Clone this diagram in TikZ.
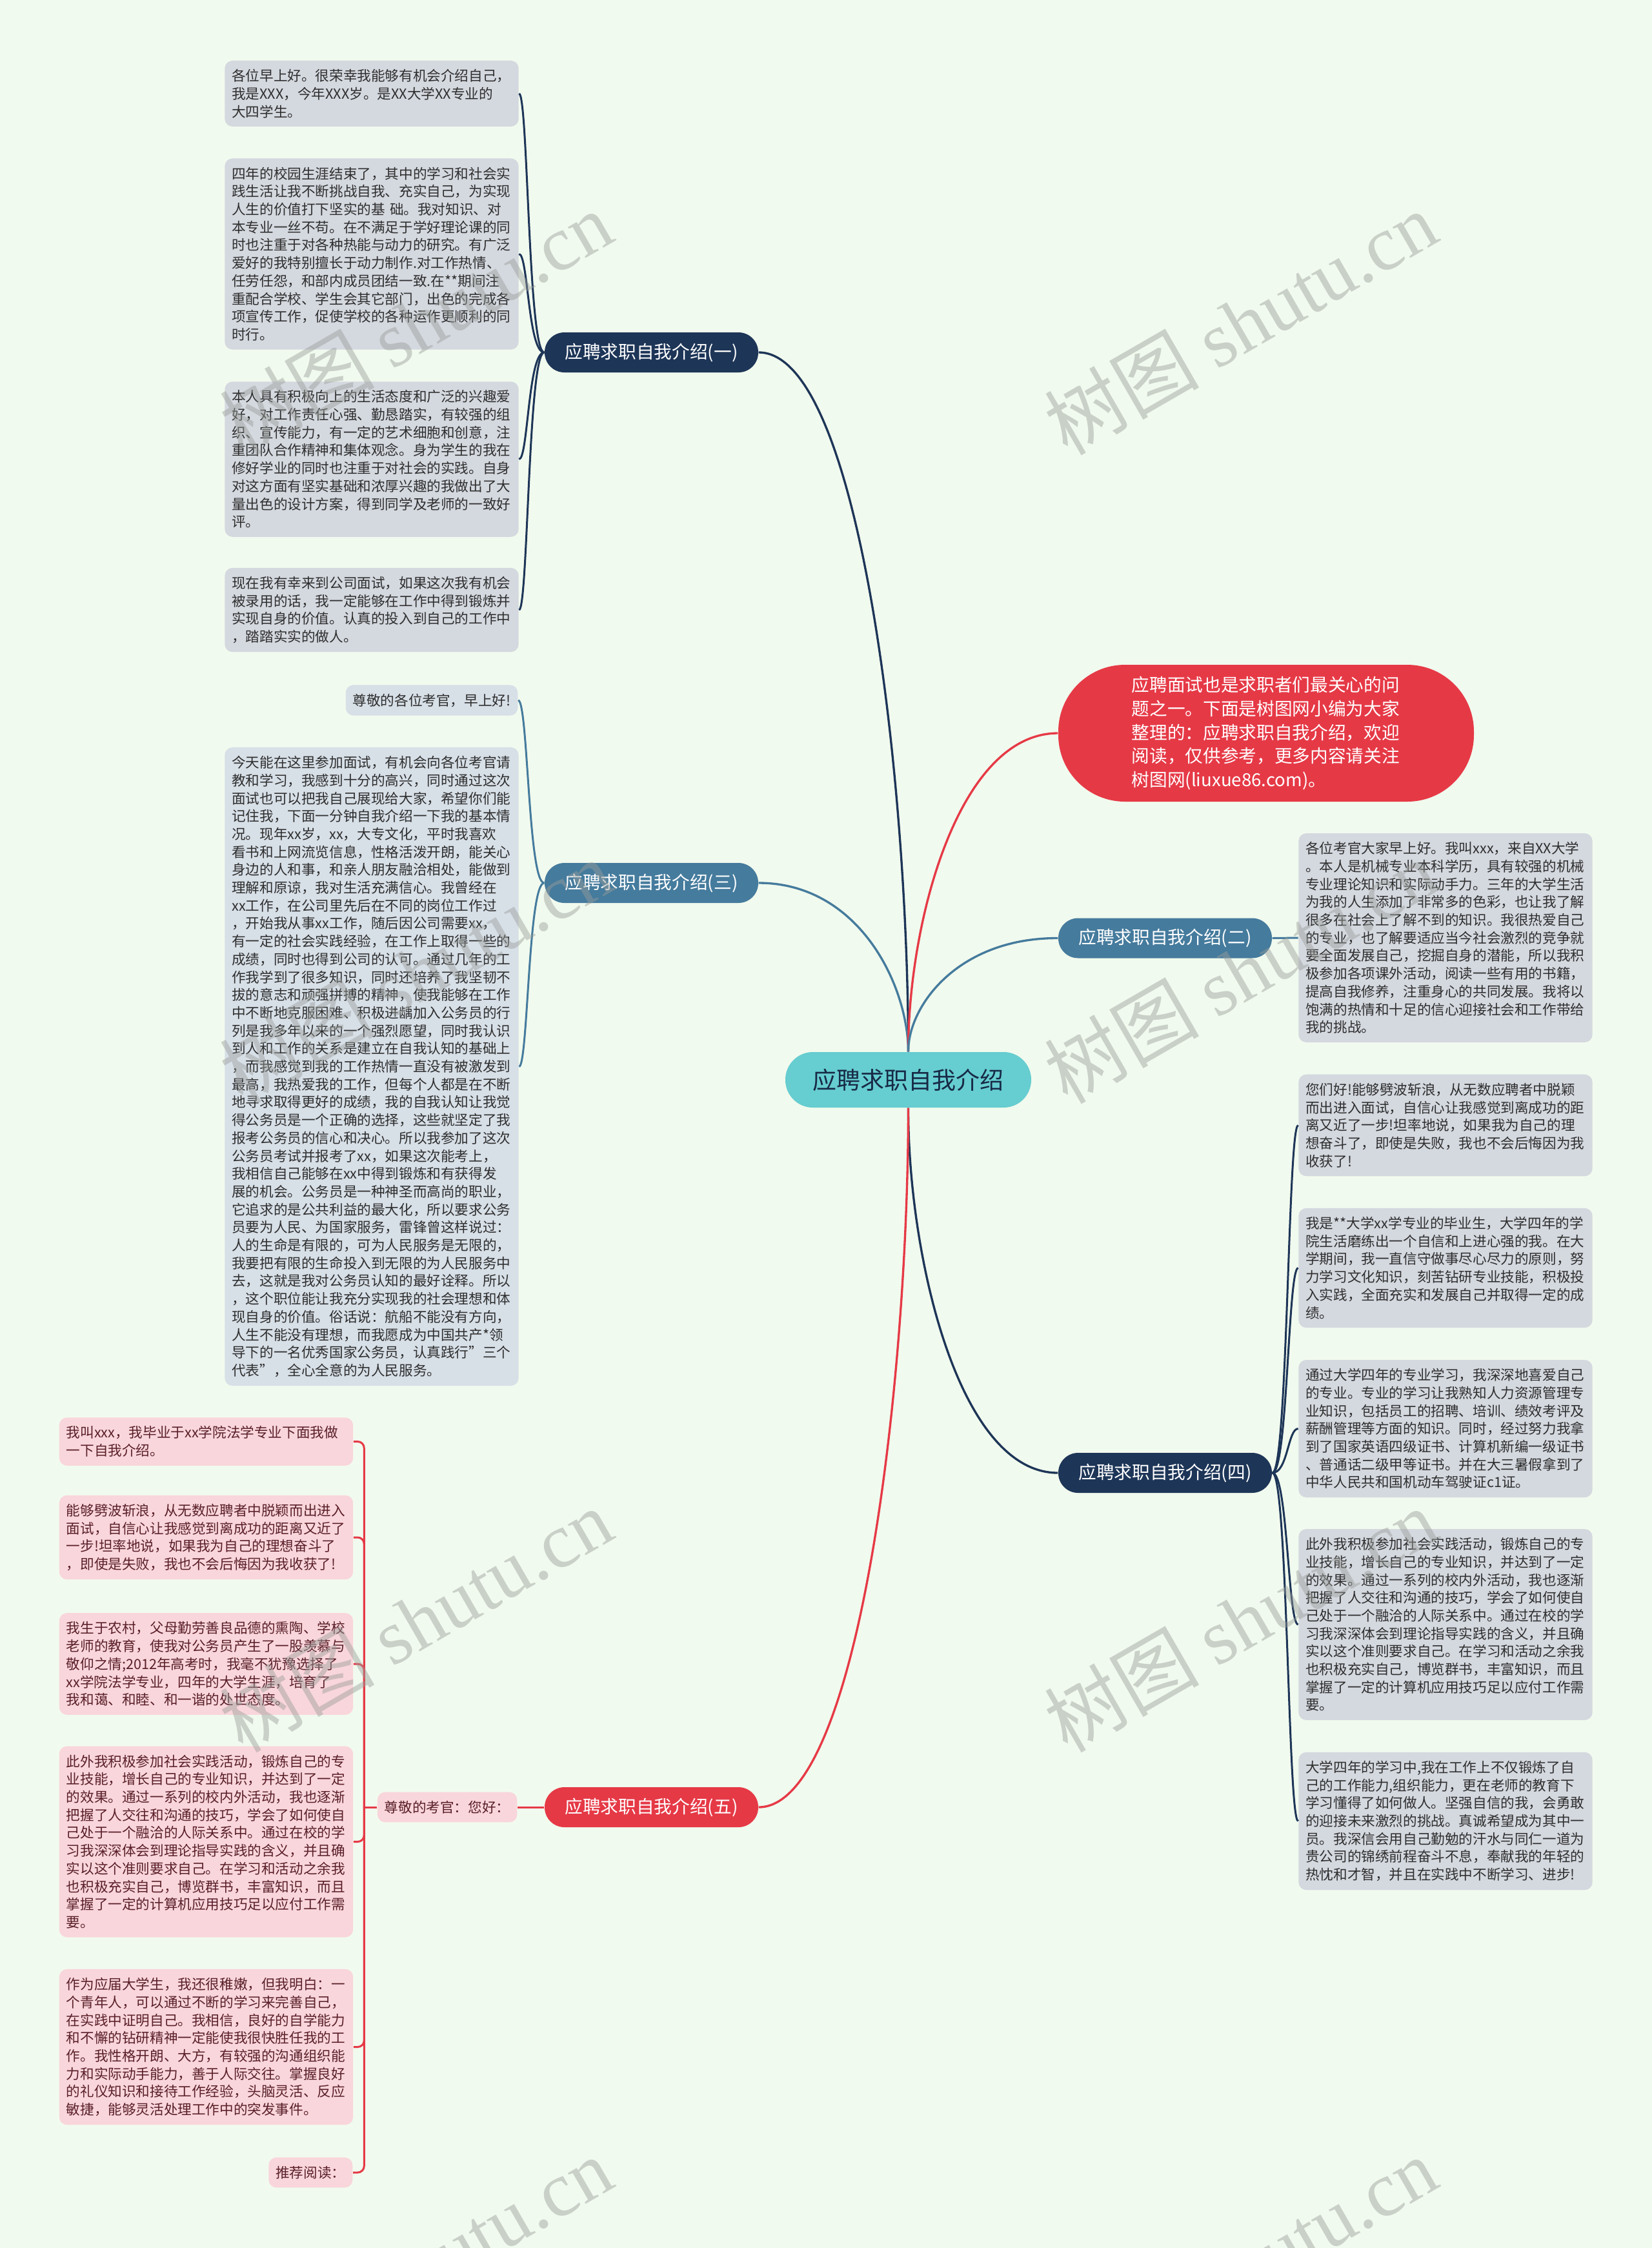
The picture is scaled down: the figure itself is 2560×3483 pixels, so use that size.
\documentclass[tikz,border=0pt]{standalone}
\usepackage{fontspec}
\setmainfont{Noto Sans CJK SC}
\newfontfamily\wmlat{Liberation Serif}
\usetikzlibrary{calc}
\definecolor{cbg}{HTML}{F1FAEE}
\definecolor{cnavy}{HTML}{1D3557}
\definecolor{csteel}{HTML}{457B9D}
\definecolor{cred}{HTML}{E63946}
\definecolor{cteal}{HTML}{66CDD0}
\definecolor{cga}{HTML}{D4D8DF}
\definecolor{cgb}{HTML}{D7DFE7}
\definecolor{cpink}{HTML}{F9D6DB}
\definecolor{ctx}{HTML}{2E2E2E}
\definecolor{cmar}{HTML}{5A1F29}
\definecolor{cwm}{HTML}{9A9E9A}
\tikzset{
  leafbase/.style={rounded corners=3.6pt, font=\fontsize{6.48pt}{8.31pt}\selectfont, align=left, inner xsep=3.3pt, inner ysep=4pt},
  wide/.style={text width=130pt},
  leafa/.style={leafbase, fill=cga, text=ctx},
  leafb/.style={leafbase, fill=cgb, text=ctx},
  leafd/.style={leafbase, fill=cpink, text=cmar},
  brn/.style={rounded corners=9.2pt, minimum width=99.3pt, minimum height=18.6pt, inner ysep=2pt, text=white, font=\fontsize{8.3pt}{10pt}\selectfont},
  lk/.style={line width=0.9pt},
  mk/.style={line width=1pt},
  wm/.style={rotate=30, opacity=0.45, text=cwm, font=\fontsize{36pt}{40pt}\selectfont}
}
\begin{document}
\begin{tikzpicture}[x=0.3pt,y=-0.3pt]
\useasboundingbox (0,0) rectangle (2560,3483);
\fill[cbg] (0,0) rectangle (2560,3483);

% center and branches
\node[fill=cteal, text=cnavy!80!black, rounded corners=12.8pt, minimum width=114.3pt, minimum height=25.8pt, font=\fontsize{11.1pt}{13pt}\selectfont] (c) at (1407.5,1673) {应聘求职自我介绍};
\node[brn, fill=cnavy] (b1) at (1009.5,546) {应聘求职自我介绍(一)};
\node[brn, fill=csteel] (b3) at (1009.5,1368) {应聘求职自我介绍(三)};
\node[brn, fill=csteel] (b2) at (1805.5,1453.5) {应聘求职自我介绍(二)};
\node[brn, fill=cnavy] (b4) at (1805.5,2282) {应聘求职自我介绍(四)};
\node[brn, fill=cred] (b5) at (1009.5,2800) {应聘求职自我介绍(五)};
\node[fill=cred, text=white, rounded corners=31pt, minimum width=193.2pt, minimum height=63.6pt, text width=125pt, align=left, font=\fontsize{8.3pt}{11pt}\selectfont] (intro) at (1962,1136) {应聘面试也是求职者们最关心的问\\题之一。下面是树图网小编为大家\\整理的：应聘求职自我介绍，欢迎\\阅读，仅供参考，更多内容请关注\\树图网(liuxue86.com)。};

% main connectors
\draw[cnavy, mk] (c.north) .. controls (1407,1196) and (1330,546) .. (b1.east);
\draw[csteel, mk] (c.north) .. controls (1407,1525) and (1330,1368) .. (b3.east);
\draw[cred, mk] (c.north) .. controls (1407,1432) and (1484,1136) .. (intro.west);
\draw[csteel, mk] (c.north) .. controls (1407,1559) and (1484,1453) .. (b2.west);
\draw[cnavy, mk] (c.south) .. controls (1407,1942) and (1484,2282) .. (b4.west);
\draw[cred, mk] (c.south) .. controls (1407,2149) and (1330,2800) .. (b5.east);

% group one
\node[leafa, wide] (l1a) at (576,145) {各位早上好。很荣幸我能够有机会介绍自己，\\我是XXX，今年XXX岁。是XX大学XX专业的\\大四学生。};
\node[leafa, wide] (l1b) at (576,393.5) {四年的校园生涯结束了，其中的学习和社会实\\践生活让我不断挑战自我、充实自己，为实现\\人生的价值打下坚实的基 础。我对知识、对\\本专业一丝不苟。在不满足于学好理论课的同\\时也注重于对各种热能与动力的研究。有广泛\\爱好的我特别擅长于动力制作.对工作热情、\\任劳任怨，和部内成员团结一致.在**期间注\\重配合学校、学生会其它部门，出色的完成各\\项宣传工作，促使学校的各种运作更顺利的同\\时行。};
\node[leafa, wide] (l1c) at (576,711.5) {本人具有积极向上的生活态度和广泛的兴趣爱\\好，对工作责任心强、勤恳踏实，有较强的组\\织、宣传能力，有一定的艺术细胞和创意，注\\重团队合作精神和集体观念。身为学生的我在\\修好学业的同时也注重于对社会的实践。自身\\对这方面有坚实基础和浓厚兴趣的我做出了大\\量出色的设计方案，得到同学及老师的一致好\\评。};
\node[leafa, wide] (l1d) at (576,945) {现在我有幸来到公司面试，如果这次我有机会\\被录用的话，我一定能够在工作中得到锻炼并\\实现自身的价值。认真的投入到自己的工作中\\，踏踏实实的做人。};
\foreach \l in {l1a,l1b,l1c,l1d}
  \draw[cnavy, lk] (b1.west) .. controls ($(b1.west)+(-25,0)$) and ($(b1.west |- \l.east)+(-25,0)$) .. (\l.east);

% group three
\node[leafb, anchor=east] (l3a) at (803,1085) {尊敬的各位考官，早上好!};
\node[leafb, wide] (l3b) at (576,1652.5) {今天能在这里参加面试，有机会向各位考官请\\教和学习，我感到十分的高兴，同时通过这次\\面试也可以把我自己展现给大家，希望你们能\\记住我，下面一分钟自我介绍一下我的基本情\\况。现年xx岁，xx，大专文化，平时我喜欢\\看书和上网流览信息，性格活泼开朗，能关心\\身边的人和事，和亲人朋友融洽相处，能做到\\理解和原谅，我对生活充满信心。我曾经在\\xx工作，在公司里先后在不同的岗位工作过\\，开始我从事xx工作，随后因公司需要xx，\\有一定的社会实践经验，在工作上取得一些的\\成绩，同时也得到公司的认可。通过几年的工\\作我学到了很多知识，同时还培养了我坚韧不\\拔的意志和顽强拼搏的精神，使我能够在工作\\中不断地克服困难、积极进龋加入公务员的行\\列是我多年以来的一个强烈愿望，同时我认识\\到人和工作的关系是建立在自我认知的基础上\\，而我感觉到我的工作热情一直没有被激发到\\最高，我热爱我的工作，但每个人都是在不断\\地寻求取得更好的成绩，我的自我认知让我觉\\得公务员是一个正确的选择，这些就坚定了我\\报考公务员的信心和决心。所以我参加了这次\\公务员考试并报考了xx，如果这次能考上，\\我相信自己能够在xx中得到锻炼和有获得发\\展的机会。公务员是一种神圣而高尚的职业，\\它追求的是公共利益的最大化，所以要求公务\\员要为人民、为国家服务，雷锋曾这样说过：\\人的生命是有限的，可为人民服务是无限的，\\我要把有限的生命投入到无限的为人民服务中\\去，这就是我对公务员认知的最好诠释。所以\\，这个职位能让我充分实现我的社会理想和体\\现自身的价值。俗话说：航船不能没有方向，\\人生不能没有理想，而我愿成为中国共产*领\\导下的一名优秀国家公务员，认真践行"三个\\代表"，全心全意的为人民服务。};
\foreach \l in {l3a,l3b}
  \draw[csteel, lk] (b3.west) .. controls ($(b3.west)+(-25,0)$) and ($(b3.west |- \l.east)+(-25,0)$) .. (\l.east);

% group two
\node[leafa, wide] (l2) at (2240,1453) {各位考官大家早上好。我叫xxx，来自XX大学\\。本人是机械专业本科学历，具有较强的机械\\专业理论知识和实际动手力。三年的大学生活\\为我的人生添加了非常多的色彩，也让我了解\\很多在社会上了解不到的知识。我很热爱自己\\的专业，也了解要适应当今社会激烈的竞争就\\要全面发展自己，挖掘自身的潜能，所以我积\\极参加各项课外活动，阅读一些有用的书籍，\\提高自我修养，注重身心的共同发展。我将以\\饱满的热情和十足的信心迎接社会和工作带给\\我的挑战。};
\draw[csteel, lk] (b2.east) -- (l2.west);

% group four
\node[leafa, wide] (l4a) at (2240,1743.5) {您们好!能够劈波斩浪，从无数应聘者中脱颖\\而出进入面试，自信心让我感觉到离成功的距\\离又近了一步!坦率地说，如果我为自己的理\\想奋斗了，即使是失败，我也不会后悔因为我\\收获了!};
\node[leafa, wide] (l4b) at (2240,1964.5) {我是**大学xx学专业的毕业生，大学四年的学\\院生活磨练出一个自信和上进心强的我。在大\\学期间，我一直信守做事尽心尽力的原则，努\\力学习文化知识，刻苦钻研专业技能，积极投\\入实践，全面充实和发展自己并取得一定的成\\绩。};
\node[leafa, wide] (l4c) at (2240,2213.5) {通过大学四年的专业学习，我深深地喜爱自己\\的专业。专业的学习让我熟知人力资源管理专\\业知识，包括员工的招聘、培训、绩效考评及\\薪酬管理等方面的知识。同时，经过努力我拿\\到了国家英语四级证书、计算机新编一级证书\\、普通话二级甲等证书。并在大三暑假拿到了\\中华人民共和国机动车驾驶证c1证。};
\node[leafa, wide] (l4d) at (2240,2517) {此外我积极参加社会实践活动，锻炼自己的专\\业技能，增长自己的专业知识，并达到了一定\\的效果。通过一系列的校内外活动，我也逐渐\\把握了人交往和沟通的技巧，学会了如何使自\\己处于一个融洽的人际关系中。通过在校的学\\习我深深体会到理论指导实践的含义，并且确\\实以这个准则要求自己。在学习和活动之余我\\也积极充实自己，博览群书，丰富知识，而且\\掌握了一定的计算机应用技巧足以应付工作需\\要。};
\node[leafa, wide] (l4e) at (2240,2821.5) {大学四年的学习中,我在工作上不仅锻炼了自\\己的工作能力,组织能力，更在老师的教育下\\学习懂得了如何做人。坚强自信的我，会勇敢\\的迎接未来激烈的挑战。真诚希望成为其中一\\员。我深信会用自己勤勉的汗水与同仁一道为\\贵公司的锦绣前程奋斗不息，奉献我的年轻的\\热忱和才智，并且在实践中不断学习、进步!};
\foreach \l in {l4a,l4b,l4c,l4d,l4e}
  \draw[cnavy, lk] (b4.east) .. controls ($(b4.east)+(24,0)$) and ($(b4.east |- \l.west)+(24,0)$) .. (\l.west);

% group five
\node[leafd, anchor=east] (s5) at (802,2800) {尊敬的考官：您好：};
\draw[cred, lk] (b5.west) -- (s5.east);
\coordinate (sp5) at ($(s5.west)+(-20,0)$);
\draw[cred, lk] (s5.west) -- (sp5);
\node[leafd, wide] (l5a) at (319.5,2233.5) {我叫xxx，我毕业于xx学院法学专业下面我做\\一下自我介绍。};
\node[leafd, wide] (l5b) at (319.5,2382) {能够劈波斩浪，从无数应聘者中脱颖而出进入\\面试，自信心让我感觉到离成功的距离又近了\\一步!坦率地说，如果我为自己的理想奋斗了\\，即使是失败，我也不会后悔因为我收获了!};
\node[leafd, wide] (l5c) at (319.5,2578) {我生于农村，父母勤劳善良品德的熏陶、学校\\老师的教育，使我对公务员产生了一股羡慕与\\敬仰之情;2012年高考时，我毫不犹豫选择了\\xx学院法学专业，四年的大学生涯，培育了\\我和蔼、和睦、和一谐的处世态度。};
\node[leafd, wide] (l5d) at (319.5,2853.5) {此外我积极参加社会实践活动，锻炼自己的专\\业技能，增长自己的专业知识，并达到了一定\\的效果。通过一系列的校内外活动，我也逐渐\\把握了人交往和沟通的技巧，学会了如何使自\\己处于一个融洽的人际关系中。通过在校的学\\习我深深体会到理论指导实践的含义，并且确\\实以这个准则要求自己。在学习和活动之余我\\也积极充实自己，博览群书，丰富知识，而且\\掌握了一定的计算机应用技巧足以应付工作需\\要。};
\node[leafd, wide] (l5e) at (319.5,3171.5) {作为应届大学生，我还很稚嫩，但我明白：一\\个青年人，可以通过不断的学习来完善自己，\\在实践中证明自己。我相信，良好的自学能力\\和不懈的钻研精神一定能使我很快胜任我的工\\作。我性格开朗、大方，有较强的沟通组织能\\力和实际动手能力，善于人际交往。掌握良好\\的礼仪知识和接待工作经验，头脑灵活、反应\\敏捷，能够灵活处理工作中的突发事件。};
\node[leafd, anchor=east] (l5f) at (547,3366) {推荐阅读：};
\foreach \l in {l5a,l5b,l5c,l5d,l5e,l5f}
  \draw[cred, lk, rounded corners=3pt] (sp5) |- (\l.east);

% watermarks
\foreach \x/\y [count=\i] in {644/500,1922/500,644/1505,1922/1505,644/2510,1922/2510,644/3515,1922/3515}
  \node[wm] (wm\i) at (\x,\y) {树图 {\wmlat shutu.cn}};
\end{tikzpicture}
\end{document}
